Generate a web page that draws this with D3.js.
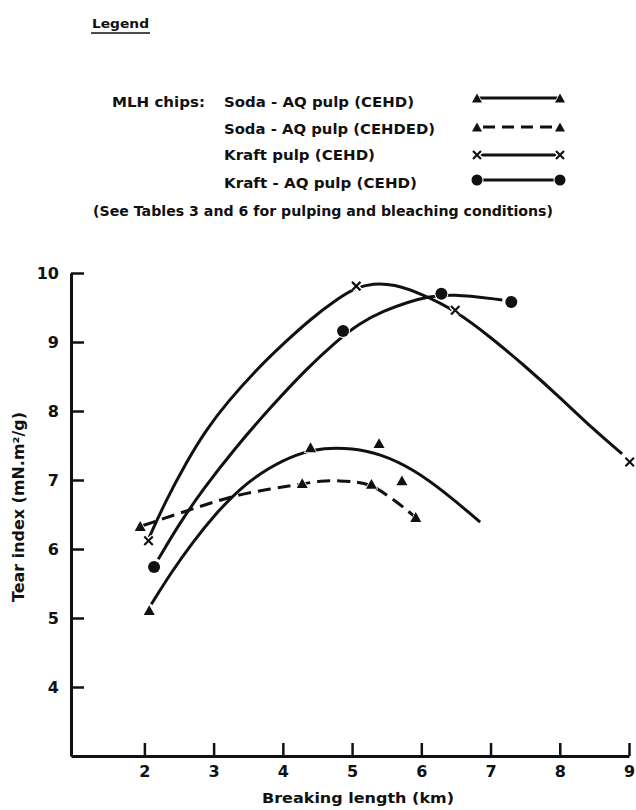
<!DOCTYPE html>
<html>
<head>
<meta charset="utf-8">
<script src="https://cdn.jsdelivr.net/npm/d3@7"></script>
<style>
  html, body { margin: 0; padding: 0; background: #fff; }
  svg { display: block; }
  text { font-family: "DejaVu Sans", sans-serif; fill: #111; }
</style>
</head>
<body>
<svg id="chart" width="636" height="810"></svg>
<script>
// ---------- data ----------
const xTicks = [2, 3, 4, 5, 6, 7, 8, 9];
const yTicks = [4, 5, 6, 7, 8, 9, 10];

const seriesNames = [
  "Soda - AQ pulp (CEHD)",
  "Soda - AQ pulp (CEHDED)",
  "Kraft pulp (CEHD)",
  "Kraft - AQ pulp (CEHD)"
];

// measured points  [breaking length km, tear index]
const sodaCEHDPoints   = [[2.07, 5.10], [4.40, 7.46], [5.39, 7.52], [5.72, 6.98]];
const sodaCEHDEDPoints = [[1.94, 6.32], [4.28, 6.94], [5.28, 6.93], [5.92, 6.45]];
const kraftPoints      = [[2.06, 6.12], [5.06, 9.81], [6.49, 9.46], [9.01, 7.26]];
const kraftAQPoints    = [[2.14, 5.74], [4.87, 9.16], [6.29, 9.70], [7.30, 9.58]];

// hand-drawn fitted curves
const sodaCEHDCurve = [[2.10, 5.20], [2.40, 5.68], [2.70, 6.10], [3.00, 6.48], [3.40, 6.90],
                       [3.80, 7.18], [4.20, 7.38], [4.60, 7.47], [5.00, 7.46], [5.41, 7.38],
                       [5.88, 7.16], [6.37, 6.80], [6.85, 6.39]];
const sodaCEHDEDCurve = [[1.98, 6.34], [2.81, 6.62], [3.28, 6.77], [3.80, 6.87], [4.28, 6.94],
                         [4.54, 6.99], [4.83, 6.99], [5.07, 6.97], [5.28, 6.93], [5.51, 6.78],
                         [5.74, 6.61], [5.90, 6.47]];
const kraftCurve = [[2.07, 6.17], [2.30, 6.68], [2.60, 7.25], [2.90, 7.74], [3.20, 8.13],
                    [3.60, 8.58], [4.00, 8.97], [4.40, 9.33], [4.75, 9.60], [5.06, 9.79],
                    [5.30, 9.85], [5.60, 9.84], [6.00, 9.70], [6.49, 9.46], [7.00, 9.07],
                    [7.50, 8.65], [8.00, 8.20], [8.50, 7.72], [8.90, 7.38]];
const kraftAQCurve = [[2.20, 5.85], [2.50, 6.36], [2.85, 6.87], [3.30, 7.45], [3.80, 8.03],
                      [4.35, 8.62], [4.76, 9.00], [5.10, 9.27], [5.45, 9.45], [5.84, 9.59],
                      [6.08, 9.65], [6.42, 9.70], [7.17, 9.61]];

// ---------- drawing ----------
const svg = d3.select("#chart");
const ink = "#111";

const x = d3.scaleLinear().domain([0.94, 9]).range([71, 629]);
const y = d3.scaleLinear().domain([3, 10]).range([756, 273]);

// axes
const yAxis = d3.axisLeft(y).tickValues(yTicks).tickSizeInner(-13).tickSizeOuter(0).tickPadding(12)
  .tickFormat(d3.format("d"));
const xAxis = d3.axisBottom(x).tickValues(xTicks).tickSizeInner(-13).tickSizeOuter(0).tickPadding(10)
  .tickFormat(d3.format("d"));

const gy = svg.append("g").attr("transform", "translate(71,0)").call(yAxis);
const gx = svg.append("g").attr("transform", "translate(0,756)").call(xAxis);
[gy, gx].forEach(g => {
  g.select(".domain").attr("stroke", ink).attr("stroke-width", 3);
  g.selectAll(".tick line").attr("stroke", ink).attr("stroke-width", 2.5);
  g.selectAll(".tick text").attr("fill", ink).style("font-family", "DejaVu Sans, sans-serif")
    .style("font-size", "16px").style("font-weight", "bold");
});

// axis titles
svg.append("text")
  .attr("x", 358).attr("y", 803).attr("text-anchor", "middle")
  .attr("textLength", 192).attr("lengthAdjust", "spacingAndGlyphs")
  .style("font-size", "14px").style("font-weight", "bold")
  .text("Breaking length (km)");

svg.append("text")
  .attr("transform", "translate(24,507) rotate(-90)")
  .attr("text-anchor", "middle")
  .attr("textLength", 190).attr("lengthAdjust", "spacingAndGlyphs")
  .style("font-size", "15px").style("font-weight", "bold")
  .text("Tear index (mN.m²/g)");

// curves
const line = d3.line().x(d => x(d[0])).y(d => y(d[1])).curve(d3.curveBasis);
const curves = [
  { data: sodaCEHDCurve, dash: null },
  { data: sodaCEHDEDCurve, dash: "13,7" },
  { data: kraftCurve, dash: null },
  { data: kraftAQCurve, dash: null }
];
svg.append("g").selectAll("path").data(curves).join("path")
  .attr("d", d => line(d.data))
  .attr("fill", "none").attr("stroke", ink).attr("stroke-width", 3)
  .attr("stroke-linecap", "butt")
  .attr("stroke-dasharray", d => d.dash);

// marker shapes
function triangle(g, cx, cy, s) {
  const h = s * 0.9;
  g.append("path")
    .attr("d", `M${cx},${cy - h * 0.6}L${cx + s / 2},${cy + h * 0.4}L${cx - s / 2},${cy + h * 0.4}Z`)
    .attr("fill", ink).attr("stroke", "#fff").attr("stroke-width", 1.5).attr("paint-order", "stroke");
}
function cross(g, cx, cy, s) {
  const r = s / 2;
  const p = `M${cx - r},${cy - r}L${cx + r},${cy + r}M${cx - r},${cy + r}L${cx + r},${cy - r}`;
  g.append("path").attr("d", p).attr("stroke", "#fff").attr("stroke-width", 5).attr("fill", "none");
  g.append("path").attr("d", p).attr("stroke", ink).attr("stroke-width", 2.2).attr("fill", "none");
}
function dot(g, cx, cy, r) {
  g.append("circle").attr("cx", cx).attr("cy", cy).attr("r", r)
    .attr("fill", ink).attr("stroke", "#fff").attr("stroke-width", 2).attr("paint-order", "stroke");
}

const mk = svg.append("g");
sodaCEHDPoints.forEach(d => triangle(mk, x(d[0]), y(d[1]), 11));
sodaCEHDEDPoints.forEach(d => triangle(mk, x(d[0]), y(d[1]), 11));
kraftPoints.forEach(d => cross(mk, x(d[0]), y(d[1]), 8.5));
kraftAQPoints.forEach(d => dot(mk, x(d[0]), y(d[1]), 6));

// ---------- legend ----------
const lg = svg.append("g");
lg.append("text").attr("x", 92).attr("y", 28)
  .attr("textLength", 57).attr("lengthAdjust", "spacingAndGlyphs")
  .style("font-size", "13px").style("font-weight", "bold").text("Legend");
lg.append("line").attr("x1", 91).attr("x2", 150).attr("y1", 33).attr("y2", 33)
  .attr("stroke", ink).attr("stroke-width", 1.6);

lg.append("text").attr("x", 112).attr("y", 107)
  .attr("textLength", 93).attr("lengthAdjust", "spacingAndGlyphs")
  .style("font-size", "14px").style("font-weight", "bold").text("MLH chips:");

const rowY = [101, 128, 154, 182];
const rowW = [190, 211, 151, 193];
seriesNames.forEach((name, i) => {
  lg.append("text").attr("x", 224).attr("y", rowY[i] + 6)
    .attr("textLength", rowW[i]).attr("lengthAdjust", "spacingAndGlyphs")
    .style("font-size", "14px").style("font-weight", "bold").text(name);
});

const symY = [98, 127, 155, 180];
const lx1 = 477, lx2 = 560;
// row 1: solid with triangles
lg.append("line").attr("x1", lx1).attr("x2", lx2).attr("y1", symY[0]).attr("y2", symY[0])
  .attr("stroke", ink).attr("stroke-width", 3);
triangle(lg, lx1, symY[0] + 1, 10); triangle(lg, lx2, symY[0] + 1, 10);
// row 2: dashed with triangles
lg.append("line").attr("x1", lx1 + 6).attr("x2", lx2).attr("y1", symY[1]).attr("y2", symY[1])
  .attr("stroke", ink).attr("stroke-width", 3).attr("stroke-dasharray", "12,7");
triangle(lg, lx1, symY[1] + 1, 10); triangle(lg, lx2, symY[1] + 1, 10);
// row 3: solid with crosses
lg.append("line").attr("x1", lx1).attr("x2", lx2).attr("y1", symY[2]).attr("y2", symY[2])
  .attr("stroke", ink).attr("stroke-width", 3);
cross(lg, lx1, symY[2], 8); cross(lg, lx2, symY[2], 8);
// row 4: solid with dots
lg.append("line").attr("x1", lx1).attr("x2", lx2).attr("y1", symY[3]).attr("y2", symY[3])
  .attr("stroke", ink).attr("stroke-width", 3);
dot(lg, lx1, symY[3], 5.5); dot(lg, lx2, symY[3], 5.5);

lg.append("text").attr("x", 93).attr("y", 216)
  .attr("textLength", 460).attr("lengthAdjust", "spacingAndGlyphs")
  .style("font-size", "14px").style("font-weight", "bold")
  .text("(See Tables 3 and 6 for pulping and bleaching conditions)");
</script>
</body>
</html>
